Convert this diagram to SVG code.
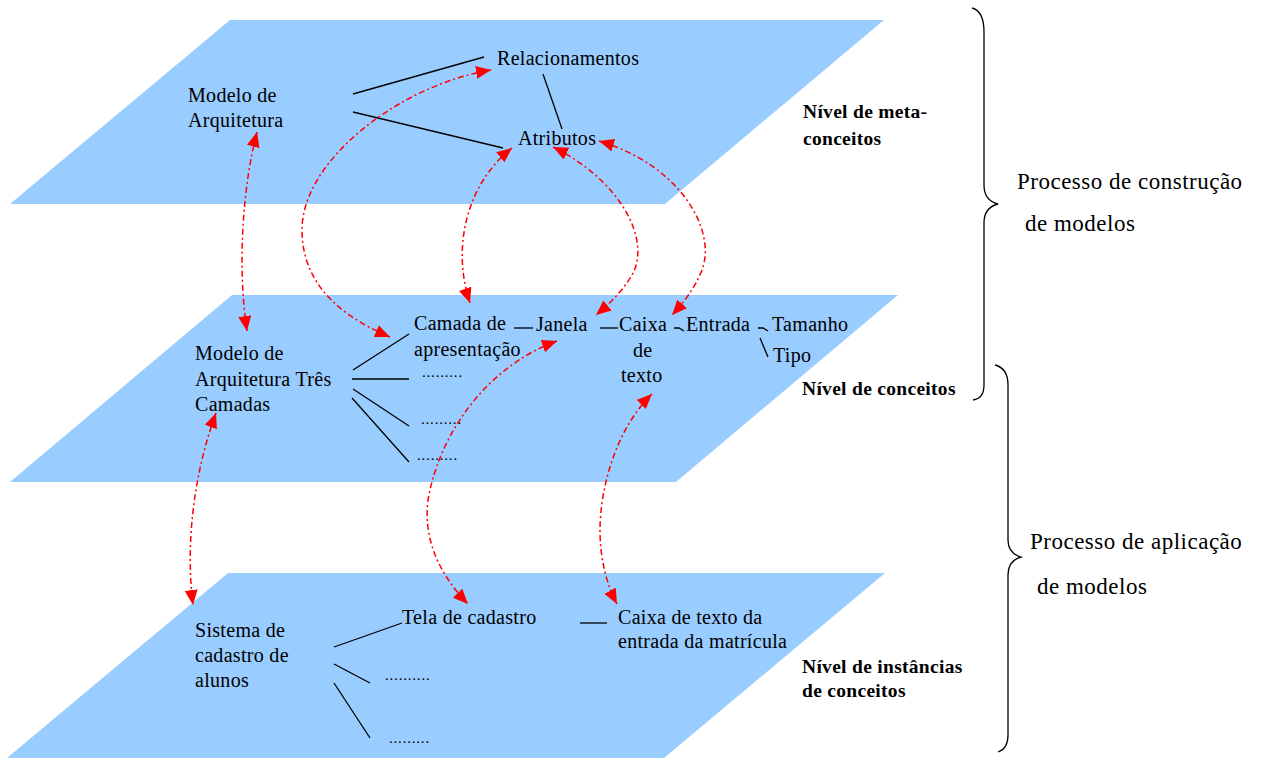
<svg xmlns="http://www.w3.org/2000/svg" width="1265" height="758" viewBox="0 0 1265 758">
  <style>
    .plane { fill: #99ccff; }
    text { font-family: "Liberation Serif", "Times New Roman", serif; fill: #000; }
    .t { font-size: 20px; letter-spacing: 0.3px; }
    .lvl { font-size: 19.5px; font-weight: bold; letter-spacing: 0.3px; }
    .proc { font-size: 23px; letter-spacing: 0.5px; }
    .dots { font-size: 15px; letter-spacing: 0.8px; }
    .link { stroke: #000; stroke-width: 1.3; fill: none; }
    .brace { stroke: #000; stroke-width: 1.3; fill: none; }
    .map { stroke: #ff0000; stroke-width: 1.5; fill: none; stroke-dasharray: 6 3 2 3;
           marker-start: url(#head); marker-end: url(#head); }
  </style>
  <defs>
    <marker id="head" markerUnits="userSpaceOnUse" markerWidth="16" markerHeight="14"
            refX="15" refY="6.5" orient="auto-start-reverse">
      <path d="M0,0 L15,6.5 L0,13 z" fill="#ff0000"/>
    </marker>
  </defs>

  <rect width="1265" height="758" fill="#ffffff"/>

  <!-- three layer planes -->
  <g id="planes">
    <polygon class="plane" points="230,20 884,20 665,204 10,204"/>
    <polygon class="plane" points="232,295 898,295 676,482 10,482"/>
    <polygon class="plane" points="228,573 885,573 664,758 7,758"/>
  </g>

  <!-- meta-concept level -->
  <g id="node-modelo-arquitetura">
    <text class="t" x="188" y="102">Modelo de</text>
    <text class="t" x="188" y="127">Arquitetura</text>
  </g>
  <g id="node-relacionamentos">
    <text class="t" x="497" y="65">Relacionamentos</text>
  </g>
  <g id="node-atributos">
    <text class="t" x="518" y="145">Atributos</text>
  </g>
  <g id="label-meta">
    <text class="lvl" x="803" y="118">Nível de meta-</text>
    <text class="lvl" x="803" y="145">conceitos</text>
  </g>

  <!-- concept level -->
  <g id="node-tres-camadas">
    <text class="t" x="195" y="360">Modelo de</text>
    <text class="t" x="195" y="386">Arquitetura Três</text>
    <text class="t" x="195" y="411">Camadas</text>
  </g>
  <g id="node-camada-apresentacao">
    <text class="t" x="414" y="330">Camada de</text>
    <text class="t" x="414" y="356">apresentação</text>
  </g>
  <g id="node-janela">
    <text class="t" x="536" y="331">Janela</text>
  </g>
  <g id="node-caixa-texto">
    <text class="t" x="619" y="331">Caixa</text>
    <text class="t" x="633" y="357">de</text>
    <text class="t" x="621" y="382">texto</text>
  </g>
  <g id="node-entrada">
    <text class="t" x="686" y="331">Entrada</text>
  </g>
  <g id="node-tamanho">
    <text class="t" x="772" y="331">Tamanho</text>
  </g>
  <g id="node-tipo">
    <text class="t" x="773" y="362">Tipo</text>
  </g>
  <g id="node-dots-concepts">
    <text class="dots" x="422" y="377">.........</text>
    <text class="dots" x="421" y="424">.........</text>
    <text class="dots" x="417" y="460">.........</text>
  </g>
  <g id="label-concepts">
    <text class="lvl" x="802" y="395">Nível de conceitos</text>
  </g>

  <!-- instance level -->
  <g id="node-sistema-cadastro">
    <text class="t" x="195" y="637">Sistema de</text>
    <text class="t" x="195" y="662">cadastro de</text>
    <text class="t" x="195" y="687">alunos</text>
  </g>
  <g id="node-tela-cadastro">
    <text class="t" x="402" y="624">Tela de cadastro</text>
  </g>
  <g id="node-caixa-matricula">
    <text class="t" x="618" y="624">Caixa de texto da</text>
    <text class="t" x="618" y="648">entrada da matrícula</text>
  </g>
  <g id="node-dots-instances">
    <text class="dots" x="385" y="680">..........</text>
    <text class="dots" x="389" y="743">.........</text>
  </g>
  <g id="label-instances">
    <text class="lvl" x="802" y="673">Nível de instâncias</text>
    <text class="lvl" x="802" y="697">de conceitos</text>
  </g>

  <!-- process braces and labels -->
  <g id="process-construcao">
    <path class="brace" d="M972,8 C980,10 984,18 984,32 L984,185 C984,196 990,202 998,204 C990,206 984,212 984,223 L984,385 C984,395 980,399 973,400"/>
    <text class="proc" x="1017" y="189">Processo de construção</text>
    <text class="proc" x="1025" y="231">de modelos</text>
  </g>
  <g id="process-aplicacao">
    <path class="brace" d="M995,365 C1003,367 1008,374 1008,385 L1008,540 C1008,550 1014,555 1021,557 C1014,559 1008,564 1008,575 L1008,735 C1008,745 1004,750 998,752"/>
    <text class="proc" x="1030" y="549">Processo de aplicação</text>
    <text class="proc" x="1037" y="594">de modelos</text>
  </g>

  <!-- connectors -->
  <g id="connectors">
    <!-- structural links inside each level -->
    <line class="link" x1="353" y1="94" x2="484" y2="57"/>
    <line class="link" x1="353" y1="112" x2="503" y2="148"/>
    <line class="link" x1="543" y1="74" x2="562" y2="129"/>

    <line class="link" x1="353" y1="370" x2="409" y2="334"/>
    <line class="link" x1="352" y1="379" x2="409" y2="379"/>
    <line class="link" x1="353" y1="389" x2="409" y2="426"/>
    <line class="link" x1="352" y1="398" x2="409" y2="462"/>
    <line class="link" x1="514" y1="328" x2="533" y2="328"/>
    <line class="link" x1="600" y1="328" x2="618" y2="328"/>
    <path class="link" d="M674,328 L679,328 L684,331"/>
    <path class="link" d="M758,328 L763,328 L768,331"/>
    <line class="link" x1="760" y1="338" x2="768" y2="357"/>

    <line class="link" x1="334" y1="647" x2="402" y2="623"/>
    <line class="link" x1="334" y1="664" x2="370" y2="683"/>
    <line class="link" x1="334" y1="683" x2="370" y2="738"/>
    <line class="link" x1="580" y1="623" x2="607" y2="623"/>

    <!-- mappings between levels -->
    <path class="map" d="M257,132 C243,185 237,265 247,331"/>
    <path class="map" d="M491,70 C400,85 302,160 302,230 C302,290 350,320 390,337"/>
    <path class="map" d="M512,148 C465,185 452,250 470,303"/>
    <path class="map" d="M553,147 C620,180 652,240 632,275 C622,292 608,305 596,315"/>
    <path class="map" d="M599,141 C680,165 717,230 702,270 C694,290 683,303 672,315"/>
    <path class="map" d="M216,413 C195,470 185,540 193,605"/>
    <path class="map" d="M557,341 C490,365 440,430 428,500 C423,540 440,575 468,604"/>
    <path class="map" d="M652,394 C615,430 600,490 600,530 C600,560 607,585 617,604"/>
  </g>
</svg>
